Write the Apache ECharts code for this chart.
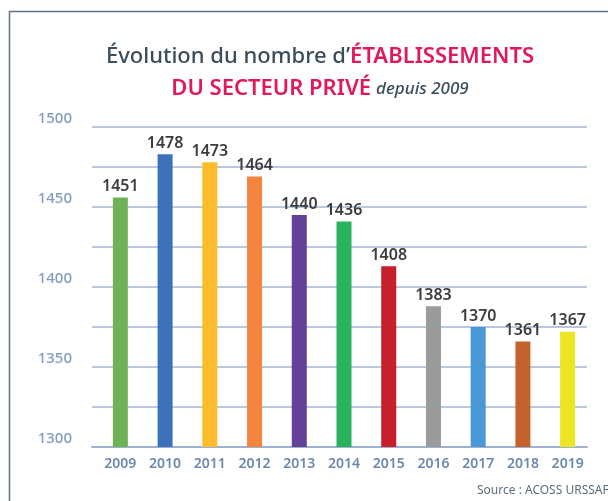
<!DOCTYPE html>
<html lang="fr" style="height: 100%">
<head>
  <meta charset="utf-8">
  <style>
    body { margin: 0; background: #ffffff; }
  </style>
</head>
<body style="height: 100%; margin: 0">
  <div id="container" style="width: 608px; height: 501px"></div>

  <script type="text/javascript" src="https://cdn.jsdelivr.net/npm/echarts@6.0.0/dist/echarts.min.js"></script>
  <script type="text/javascript">
    var years = ['2009', '2010', '2011', '2012', '2013', '2014', '2015', '2016', '2017', '2018', '2019'];
    var etablissements = [1451, 1478, 1473, 1464, 1440, 1436, 1408, 1383, 1370, 1361, 1367];
    var barColors = ['#6fb256', '#3b71ba', '#fdbc2b', '#f5843e', '#644199', '#2ab35e',
                     '#c71f2b', '#9b9b9b', '#4b99d4', '#c5612a', '#ece523'];
    var yMin = 1300, yMax = 1500;

    var dom = document.getElementById('container');
    var myChart = echarts.init(dom, null, { renderer: 'canvas' });

    var font = '"Noto Sans", sans-serif';

    var option = {
      animation: false,
      title: {
        text: '{a|Évolution du nombre d’}{b|ÉTABLISSEMENTS}\n{b|DU SECTEUR PRIVÉ} {c|depuis 2009}',
        left: 315,
        top: 36,
        textAlign: 'center',
        textStyle: {
          rich: {
            a: { fontFamily: font, fontSize: 22, fontWeight: 500, color: '#3b4d5b', lineHeight: 32, align: 'center' },
            b: { fontFamily: font, fontSize: 22, fontWeight: 600, color: '#e2175e', lineHeight: 32, align: 'center' },
            c: { fontFamily: font, fontSize: 17, fontStyle: 'italic', fontWeight: 500, color: '#3b4d5b', lineHeight: 32, align: 'center' }
          }
        }
      },
      graphic: [
        {
          type: 'polyline',
          shape: { points: [[9.5, 510], [9.5, 11.5], [620, 11.5]] },
          style: { stroke: '#5f7282', lineWidth: 1.5, fill: null },
          silent: true
        },
        {
          type: 'text',
          left: 477,
          top: 485,
          style: { text: 'Source : ACOSS URSSAF', fontFamily: font, fontSize: 12, fill: '#5a6d7e' },
          silent: true
        }
      ],
      grid: [
        // bars
        { left: 98, right: 18, top: 119, height: 328 },
        // gridlines
        { left: 92, right: 21, top: 127, height: 320 },
        // y labels
        { left: 92, right: 21, top: 119, height: 320 }
      ],
      xAxis: [
        {
          type: 'category',
          gridIndex: 0,
          data: years,
          axisLine: { show: false },
          axisTick: { show: false },
          axisLabel: { margin: 10, fontFamily: font, fontSize: 14, fontWeight: 600, color: '#6c88ae' }
        },
        {
          type: 'category',
          gridIndex: 1,
          data: years,
          axisLine: { lineStyle: { color: '#9db2d0', width: 2 } },
          axisTick: { show: false },
          axisLabel: { show: false }
        },
        {
          type: 'category',
          gridIndex: 2,
          data: years,
          show: false
        }
      ],
      yAxis: [
        {
          type: 'value',
          gridIndex: 0,
          min: yMin - 5,
          max: yMax,
          show: false
        },
        {
          type: 'value',
          gridIndex: 1,
          min: yMin,
          max: yMax,
          interval: 25,
          axisLine: { show: false },
          axisTick: { show: false },
          axisLabel: { show: false },
          splitLine: { lineStyle: { color: '#a3b6d3', width: 1.5 } }
        },
        {
          type: 'value',
          gridIndex: 2,
          min: yMin,
          max: yMax,
          interval: 50,
          axisLine: { show: false },
          axisTick: { show: false },
          splitLine: { show: false },
          axisLabel: {
            margin: 20,
            fontFamily: font,
            fontSize: 15,
            fontWeight: 500,
            color: '#7f9bc2',
            formatter: function (v) { return String(v); }
          }
        }
      ],
      series: [
        {
          type: 'bar',
          xAxisIndex: 0,
          yAxisIndex: 0,
          barWidth: 15,
          z: 3,
          data: etablissements.map(function (v, i) {
            return { value: v, itemStyle: { color: barColors[i] } };
          }),
          label: {
            show: true,
            position: 'top',
            distance: 3,
            fontFamily: font,
            fontSize: 16,
            fontWeight: 600,
            color: '#3d3d3d'
          }
        }
      ]
    };

    myChart.setOption(option);
    window.addEventListener('resize', myChart.resize);
  </script>
</body>
</html>
